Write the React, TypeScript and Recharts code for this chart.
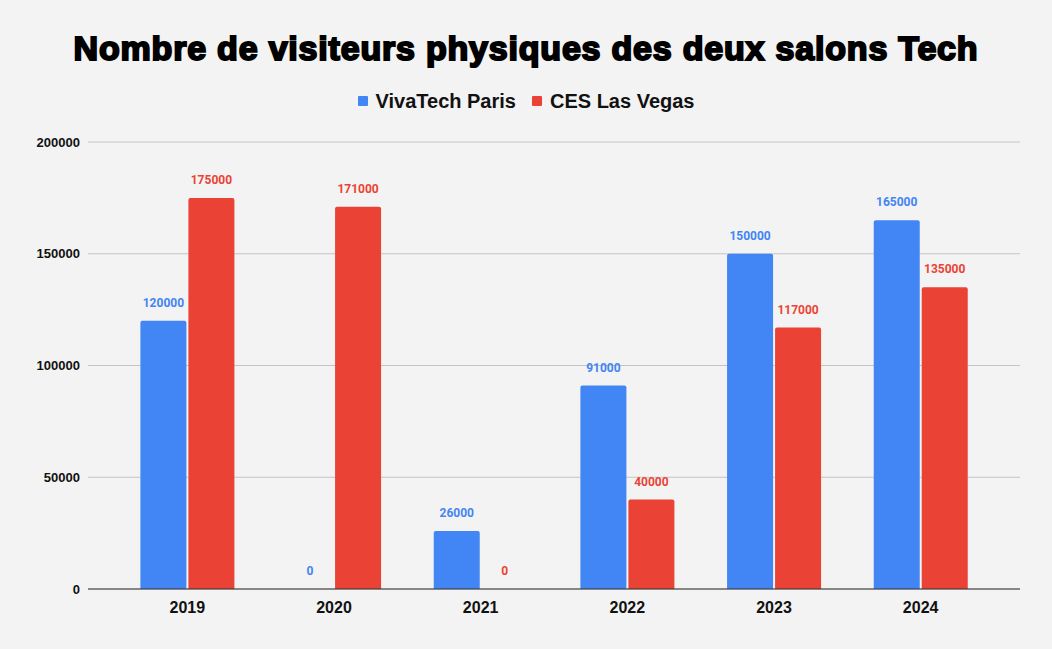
import React from "react";
import {
  Bar,
  BarChart,
  CartesianGrid,
  Legend,
  XAxis,
  YAxis,
} from "recharts";

const years = ["2019", "2020", "2021", "2022", "2023", "2024"];
const vivaTech = [120000, 0, 26000, 91000, 150000, 165000];
const ces = [175000, 171000, 0, 40000, 117000, 135000];
const yTicks = [0, 50000, 100000, 150000, 200000];

const BLUE = "#4285F4";
const RED = "#EA4335";
const BG = "#f3f3f3";
const ARIAL = "'Liberation Sans', Arial, sans-serif";

const data = years.map((year, i) => ({
  year,
  vivaTech: vivaTech[i],
  ces: ces[i],
}));

// bar + its value ~18px above the top; drawn in the shape so zero bars keep a label
function barWithValue(color: string, key: "vivaTech" | "ces") {
  return (props: any) => {
    const { x, y, width, height, payload } = props;
    const value = payload[key];
    const r = Math.min(2, height);
    return (
      <g>
        {height > 0 && (
          <path
            d={`M${x},${y + height} L${x},${y + r} Q${x},${y} ${x + r},${y} L${x + width - r},${y} Q${x + width},${y} ${x + width},${y + r} L${x + width},${y + height} Z`}
            fill={color}
          />
        )}
        <text
          x={x + width / 2}
          y={y - 18}
          textAnchor="middle"
          dominantBaseline="central"
          fill={color}
          fontFamily="Roboto, sans-serif"
          fontWeight={700}
          fontSize={12}
        >
          {value}
        </text>
      </g>
    );
  };
}

// legend is centred on the whole 1052px canvas, not on the plot area
function LegendRow() {
  const item = (color: string, label: string) => (
    <span style={{ display: "inline-flex", alignItems: "center", margin: "0 8px" }}>
      <span
        style={{
          width: 10,
          height: 10,
          background: color,
          borderRadius: 1,
          marginRight: 8,
        }}
      />
      {label}
    </span>
  );
  return (
    <div
      style={{
        width: 1052,
        height: 53,
        display: "flex",
        justifyContent: "center",
        alignItems: "flex-start",
        fontFamily: ARIAL,
        fontWeight: 700,
        fontSize: 20,
        color: "#111",
        lineHeight: "24px",
      }}
    >
      {item(BLUE, "VivaTech Paris")}
      {item(RED, "CES Las Vegas")}
    </div>
  );
}

export default function App() {
  return (
    <div
      style={{
        position: "absolute",
        left: 0,
        top: 0,
        width: 1052,
        height: 649,
        background: BG,
      }}
    >
      <div
        style={{
          position: "absolute",
          top: 26,
          left: 0,
          width: 1052,
          textAlign: "center",
          fontFamily: ARIAL,
          fontWeight: 700,
          fontSize: 34,
          letterSpacing: 0.8,
          lineHeight: "44px",
          color: "#000",
          WebkitTextStroke: "2px #000",
        }}
      >
        Nombre de visiteurs physiques des deux salons Tech
      </div>
      <BarChart
        width={1052}
        height={649}
        data={data}
        margin={{ top: 89, right: 32, bottom: 30, left: 0 }}
        barCategoryGap="18%"
        barGap={2}
      >
        <CartesianGrid vertical={false} stroke="#c4c4c4" />
        <Legend
          verticalAlign="top"
          wrapperStyle={{ left: 0, width: 1052 }}
          content={() => <LegendRow />}
        />
        <XAxis
          dataKey="year"
          padding={{ left: 26, right: 26 }}
          tickLine={false}
          axisLine={{ stroke: "#333" }}
          tickMargin={7}
          tick={{ fill: "#111", fontSize: 16, fontWeight: 700, fontFamily: ARIAL }}
        />
        <YAxis
          width={88}
          domain={[0, 200000]}
          ticks={yTicks}
          tickLine={false}
          axisLine={false}
          tick={{ fill: "#111", fontSize: 13, fontWeight: 700, fontFamily: ARIAL }}
        />
        <Bar
          dataKey="vivaTech"
          name="VivaTech Paris"
          fill={BLUE}
          shape={barWithValue(BLUE, "vivaTech")}
          isAnimationActive={false}
        />
        <Bar
          dataKey="ces"
          name="CES Las Vegas"
          fill={RED}
          shape={barWithValue(RED, "ces")}
          isAnimationActive={false}
        />
      </BarChart>
    </div>
  );
}
